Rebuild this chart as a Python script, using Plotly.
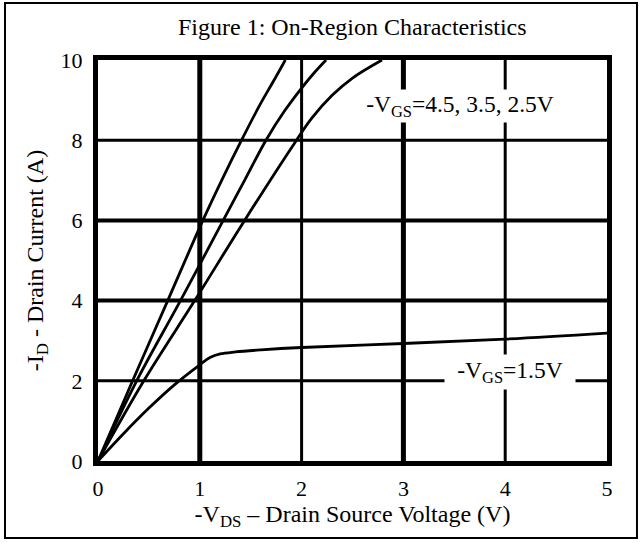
import plotly.graph_objects as go

# ---- data ----
vds_45 = [0, 0.34, 0.685, 1.03, 1.215, 1.41, 1.59, 1.73, 1.84]
id_45 = [0, 2, 4, 6, 7, 8, 8.88, 9.5, 10]

vds_35 = [0, 0.38, 0.81, 1.23, 1.44, 1.65, 1.83, 2.0, 2.12, 2.24]
id_35 = [0, 2, 4, 6, 7, 8, 8.72, 9.3, 9.67, 10]

vds_25 = [0, 0.45, 0.95, 1.44, 1.95, 2.1, 2.3, 2.5, 2.79]
id_25 = [0, 2, 4, 6, 8, 8.55, 9.12, 9.55, 10]

vds_15 = [0, 0.25, 0.5, 0.75, 1.0, 1.1, 1.2, 1.35, 1.6, 2.0, 3.0, 4.0, 5.0]
id_15 = [0, 0.68, 1.32, 1.9, 2.4, 2.58, 2.67, 2.72, 2.77, 2.83, 2.93, 3.04, 3.19]

x_ticks = [0, 1, 2, 3, 4, 5]
y_ticks = [0, 2, 4, 6, 8, 10]

title_text = "Figure 1: On-Region Characteristics"
x_title = "-V<sub>DS</sub> \u2013 Drain Source Voltage (V)"
y_title = "-I<sub>D</sub> - Drain Current (A)"
label_high = "-V<sub>GS</sub>=4.5, 3.5, 2.5V"
label_low = "-V<sub>GS</sub>=1.5V"

# ---- styles ----
FONT = "Liberation Serif, Times New Roman, serif"
xgrid_w = {1: 5, 2: 3, 3: 5, 4: 3}
ygrid_w = {2: 3, 4: 4, 6: 4, 8: 3}

fig = go.Figure()
for xs, ys in [(vds_45, id_45), (vds_35, id_35), (vds_25, id_25), (vds_15, id_15)]:
    fig.add_trace(go.Scatter(x=xs, y=ys, mode="lines",
                             line=dict(color="black", width=2.8, shape="spline", smoothing=1.0),
                             showlegend=False, hoverinfo="skip"))

shapes = []
for xv in x_ticks[1:-1]:
    shapes.append(dict(type="line", xref="x", yref="y", x0=xv, x1=xv, y0=y_ticks[0], y1=y_ticks[-1],
                       line=dict(color="black", width=xgrid_w[xv]), layer="below"))
for yv in y_ticks[1:-1]:
    shapes.append(dict(type="line", xref="x", yref="y", y0=yv, y1=yv, x0=x_ticks[0], x1=x_ticks[-1],
                       line=dict(color="black", width=ygrid_w[yv]), layer="below"))
# outer frame
shapes.append(dict(type="rect", xref="paper", yref="paper", x0=-0.1827, x1=1.0589, y0=-0.192, y1=1.142,
                   line=dict(color="black", width=2), fillcolor="rgba(0,0,0,0)", layer="above"))

annotations = [
    dict(x=3.56, y=8.85, xref="x", yref="y", text=label_high, showarrow=False,
         font=dict(family=FONT, size=23.5, color="black"), bgcolor="white",
         width=194, height=32, borderpad=0),
    dict(x=4.05, y=2.22, xref="x", yref="y", text=label_low, showarrow=False,
         font=dict(family=FONT, size=23.5, color="black"), bgcolor="white",
         width=130, height=34, borderpad=0),
    dict(x=0.5, y=1.082, xref="paper", yref="paper", text=title_text, showarrow=False,
         font=dict(family=FONT, size=24, color="black"), xanchor="center", yanchor="middle"),
]

fig.update_layout(
    width=642, height=543,
    margin=dict(l=98, r=35, t=60, b=82),
    paper_bgcolor="white", plot_bgcolor="white",
    font=dict(family=FONT, color="black", size=22),
    shapes=shapes, annotations=annotations,
    xaxis=dict(range=[0, 5], tickvals=x_ticks, ticktext=[str(v) for v in x_ticks],
               showgrid=False, zeroline=False, showline=True, mirror=True, linecolor="black",
               linewidth=5, ticks="", ticklabelstandoff=4,
               tickfont=dict(family=FONT, size=22),
               title=dict(text=x_title, font=dict(family=FONT, size=24), standoff=6)),
    yaxis=dict(range=[0, 10], tickvals=y_ticks, ticktext=[str(v) for v in y_ticks],
               showgrid=False, zeroline=False, showline=True, mirror=True, linecolor="black",
               linewidth=5, ticks="", ticklabelstandoff=6,
               tickfont=dict(family=FONT, size=22),
               title=dict(text=y_title, font=dict(family=FONT, size=24), standoff=12)),
)

fig.write_html("out.html", config={"displayModeBar": False},
               post_script="document.body.style.margin='0';")
